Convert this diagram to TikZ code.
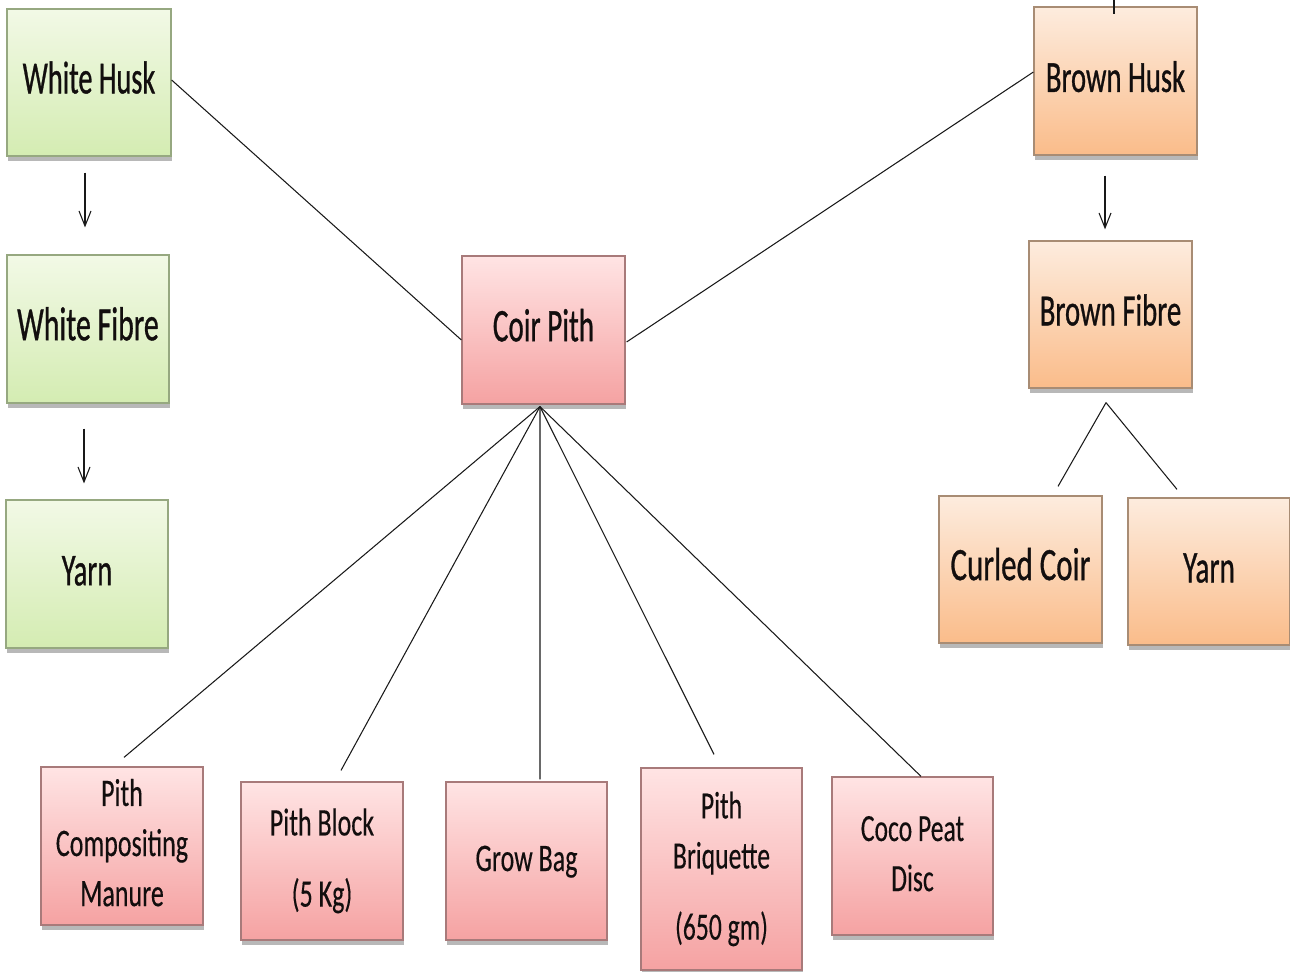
\documentclass[tikz,border=0pt]{standalone}
\usepackage{graphicx}
\usepackage{fontspec}
\setmainfont{Carlito}
\newfontfamily\heavyface{Carlito}[FakeBold=0.9]
\newfontfamily\midface{Carlito}[FakeBold=0.35]
\usetikzlibrary{calc,shadows,arrows.meta}

% tall, narrow lettering: text is stretched vertically
\newcommand\tallt[2][1.55]{\scalebox{1}[#1]{\begin{tabular}{@{}c@{}}#2\end{tabular}}}
\newcommand\fs[2]{\fontsize{#1}{#2}\selectfont}

\definecolor{gtop}{RGB}{242,249,230}
\definecolor{gbot}{RGB}{212,236,178}
\definecolor{gline}{RGB}{150,168,128}
\definecolor{ptop}{RGB}{255,228,228}
\definecolor{pbot}{RGB}{245,162,162}
\definecolor{pline}{RGB}{168,122,122}
\definecolor{otop}{RGB}{253,236,222}
\definecolor{obot}{RGB}{250,188,138}
\definecolor{oline}{RGB}{168,140,116}
\definecolor{txt}{RGB}{18,14,14}

\tikzset{
  basebox/.style={rectangle, inner sep=0pt, line width=0.7pt, text=txt,
    drop shadow={shadow xshift=0.6pt, shadow yshift=-3pt, fill=black, opacity=0.28}},
  sz/.style 2 args={minimum width=#1*0.02cm, minimum height=#2*0.02cm},
  greenbox/.style={basebox, top color=gtop, bottom color=gbot, draw=gline},
  pinkbox/.style={basebox, top color=ptop, bottom color=pbot, draw=pline},
  orangebox/.style={basebox, top color=otop, bottom color=obot, draw=oline},
  link/.style={draw=black!90, line width=0.6pt},
  flow/.style={link, -{Straight Barb[length=0.3cm, width=0.24cm, line width=0.6pt]}}
}

\begin{document}
\begin{tikzpicture}[x=0.02cm, y=-0.02cm]
\useasboundingbox (0,0) rectangle (1290,972);

% white husk branch
\node[greenbox, sz={164}{147}, font=\heavyface\fs{16.1}{19}] (wh) at (89,82.5) {\tallt[1.63]{White Husk}};
\node[greenbox, sz={162}{148}, font=\heavyface\fs{17.0}{20}] (wf) at (88,329) {\tallt[1.6]{White Fibre}};
\node[greenbox, sz={162}{148}, font=\heavyface\fs{16.2}{20}] (yl) at (87,574) {\tallt[1.6]{Yarn}};

% coir pith
\node[pinkbox, sz={163}{148}, font=\heavyface\fs{16.6}{20}] (cp) at (543.5,330) {\tallt[1.6]{Coir Pith}};

% brown husk branch
\node[orangebox, sz={163}{148}, font=\heavyface\fs{16.3}{20}] (bh) at (1115.5,81) {\tallt[1.55]{Brown Husk}};
\node[orangebox, sz={163}{147}, font=\heavyface\fs{16.4}{20}] (bf) at (1110.5,314.5) {\tallt[1.55]{Brown Fibre}};
\node[orangebox, sz={163}{147}, font=\heavyface\fs{17.6}{20}] (cc) at (1020.5,569.5) {\tallt[1.5]{Curled Coir}};
\node[orangebox, sz={162}{147}, font=\heavyface\fs{16.6}{20}] (yr) at (1209,571.5) {\tallt[1.55]{Yarn}};

% coir pith products
\node[pinkbox, sz={162}{158}, font=\midface\fs{14.8}{19}] (pcm) at (122,846)
  {\tallt[1.5]{Pith\\Compositing\\Manure}};
\node[pinkbox, sz={162}{158}, font=\midface\fs{14.8}{19}] (pb) at (322,861)
  {\tallt[1.5]{Pith Block\\[8pt](5 Kg)}};
\node[pinkbox, sz={161}{158}, font=\midface\fs{14.8}{19}] (gb) at (526.5,861)
  {\tallt[1.5]{Grow Bag}};
\node[pinkbox, sz={161}{202}, font=\midface\fs{14.6}{19}] (pbr) at (721.5,869)
  {\tallt[1.5]{Pith\\Briquette\\[8pt](650 gm)}};
\node[pinkbox, sz={161}{158}, font=\midface\fs{14.6}{19}] (cpd) at (912.5,856)
  {\tallt[1.5]{Coco Peat\\Disc}};

% connectors
\coordinate (topend) at (1114,0);
\draw[link] (topend) -- ($(bh.north)+(-1.5,8)$);

\draw[flow] ($(wh.south)+(-4,16)$) -- ($(wf.north)+(-3,-27)$);
\draw[flow] ($(wf.south)+(-4,25)$) -- ($(yl.north)+(-3,-16)$);
\draw[flow] ($(bh.south)+(-10.5,20)$) -- ($(bf.north)+(-5.5,-11)$);

\draw[link] ($(bf.south)+(-4.5,14)$) -- ($(cc.north)+(37.5,-9)$);
\draw[link] ($(bf.south)+(-4.5,14)$) -- ($(yr.north)+(-32,-8)$);

\draw[link] ($(wh.east)+(0,-2.5)$) -- ($(cp.west)+(0,10)$);
\draw[link] ($(bh.west)+(0,-9)$) -- ($(cp.east)+(1,12)$);

\draw[link] ($(cp.south)+(-3.5,2)$) -- ($(pcm.north)+(2,-9)$);
\draw[link] ($(cp.south)+(-3.5,2)$) -- ($(pb.north)+(19,-11)$);
\draw[link] ($(cp.south)+(-3.5,2)$) -- ($(gb.north)+(13.5,-2)$);
\draw[link] ($(cp.south)+(-3.5,2)$) -- ($(pbr.north)+(-7.5,-13)$);
\draw[link] ($(cp.south)+(-3.5,2)$) -- ($(cpd.north)+(8.5,0)$);
\end{tikzpicture}
\end{document}
